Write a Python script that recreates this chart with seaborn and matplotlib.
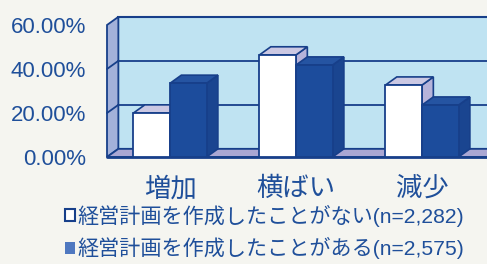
import numpy as np
import pandas as pd
import matplotlib
matplotlib.use('Agg')
import matplotlib.pyplot as plt
import seaborn as sns
from matplotlib.patches import Rectangle, Polygon, Patch

categories = ['増加', '横ばい', '減少']
groups = ['経営計画を作成したことがない(n=2,282)', '経営計画を作成したことがある(n=2,575)']
not_made = [20.0, 46.4, 32.7]
made = [33.5, 41.8, 23.6]
yticks = [0, 20, 40, 60]

df = pd.DataFrame({
    'category': categories * 2,
    'group': [groups[0]] * 3 + [groups[1]] * 3,
    'value': not_made + made,
})

sns.set_theme(style='white')
plt.rcParams['font.family'] = ['Liberation Sans', 'Noto Sans CJK JP']

navy = '#1c4c9c'
edge = '#173f8a'
txt = '#1f4f9a'
wall = '#bfe3f2'
side_wall = '#a3b1da'
floor_c = '#aaa7d3'

fig = plt.figure(figsize=(4.87, 2.64), dpi=100, facecolor='#f5f5f0')
ax = fig.add_axes([107 / 487, 1 - 157 / 264, (485 - 107) / 487, (157 - 25) / 264])
ax.set_facecolor('none')

sns.barplot(data=df, x='category', y='value', hue='group', palette=['white', navy],
            saturation=1, width=0.58, gap=0, edgecolor=edge, linewidth=1.3, ax=ax, legend=False)
bars = sorted(ax.patches, key=lambda p: p.get_x())

ax.set_xlim(-0.5, 2.5)
ax.set_ylim(0, 60)
dx, dy = 0.09, 3.7

# 3D box: back wall, left wall, floor
ax.add_patch(Rectangle((-0.5 + dx, dy), 3.3, 60, fc=wall, ec=edge, lw=1.5,
                       clip_on=False, zorder=0))
ax.add_patch(Polygon([(-0.5, 0), (-0.5 + dx, dy), (-0.5 + dx, 60 + dy), (-0.5, 60)],
                     closed=True, fc=side_wall, ec=edge, lw=1.3, clip_on=False, zorder=0.5))
ax.add_patch(Polygon([(-0.5, 0), (2.8, 0), (2.8 + dx, dy), (-0.5 + dx, dy)],
                     closed=True, fc=floor_c, ec=edge, lw=1.3, clip_on=False, zorder=0.5))
for v in yticks[1:-1]:
    ax.plot([-0.5 + dx, 2.8], [v + dy, v + dy], color=edge, lw=1.3, zorder=0.6, clip_on=False)
    ax.plot([-0.5, -0.5 + dx], [v, v + dy], color=edge, lw=1.3, zorder=0.6, clip_on=False)
ax.plot([-0.5, 2.8], [0, 0], color=edge, lw=2, zorder=0.7, clip_on=False)

# bar depth faces
for i, p in enumerate(bars):
    x0, w, h = p.get_x(), p.get_width(), p.get_height()
    x1 = x0 + w
    white = p.get_facecolor()[0] > 0.9
    top_c = '#cbc8e3' if white else '#2554a2'
    side_c = '#b6b3da' if white else '#1a4590'
    ax.add_patch(Polygon([(x1, 0), (x1 + dx, dy), (x1 + dx, h + dy), (x1, h)], closed=True,
                         fc=side_c, ec=edge, lw=1.2, clip_on=False, zorder=2 + 2 * i))
    ax.add_patch(Polygon([(x0, h), (x1, h), (x1 + dx, h + dy), (x0 + dx, h + dy)], closed=True,
                         fc=top_c, ec=edge, lw=1.2, clip_on=False, zorder=2 + 2 * i))
    p.set_zorder(3 + 2 * i)

for s in ax.spines.values():
    s.set_visible(False)
ax.set_yticks(yticks)
ax.set_yticklabels([f'{v:.2f}%' for v in yticks])
ax.tick_params(axis='y', length=0, pad=15, labelsize=16, labelcolor=txt)
ax.tick_params(axis='x', length=0, pad=14, labelsize=19, labelcolor=txt)
ax.set_xlabel('')
ax.set_ylabel('')

handles = [Patch(fc='white', ec=edge, lw=1.5), Patch(fc='#4f78c0', ec='none')]
leg = fig.legend(handles, groups, loc='upper left', bbox_to_anchor=(54 / 487, 1 - 194 / 264),
                 frameon=False, fontsize=15.2, handlelength=0.5, handleheight=0.5,
                 handletextpad=0.1, borderpad=0, labelspacing=0.5)
for t in leg.get_texts():
    t.set_color(txt)

fig.savefig('out.png', dpi=100, facecolor=fig.get_facecolor())
